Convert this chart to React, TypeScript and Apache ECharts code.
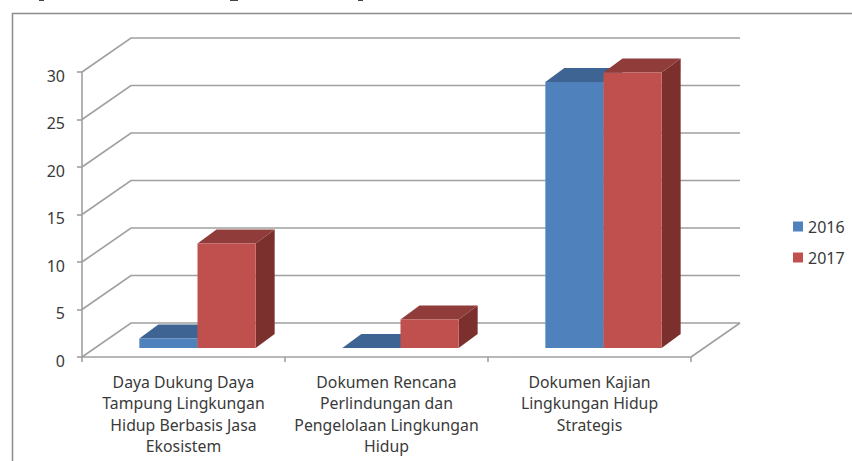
import React, { useEffect, useRef } from "react";
import * as echarts from "echarts";

const categories = [
  "Daya Dukung Daya\nTampung Lingkungan\nHidup Berbasis Jasa\nEkosistem",
  "Dokumen Rencana\nPerlindungan dan\nPengelolaan Lingkungan\nHidup",
  "Dokumen Kajian\nLingkungan Hidup\nStrategis",
];
const values2016 = [1, 0, 28];
const values2017 = [11, 3, 29];
const yTicks = [0, 5, 10, 15, 20, 25, 30];

const FONT = "'Noto Sans'";
const TEXT = "#3a3a3a";
const GRID = "#a0a0a0";
const WALL_DX = 49, WALL_DY = -34;
const BAR_OFF_X = 14, BAR_OFF_Y = -9;
const BAR_DX = 19, BAR_DY = -14;
const BAR_W_FRAC = 0.2865;

function wallItem(_p: any, api: any) {
  const [x0, y] = api.coord([0, api.value(0)]);
  const band = api.size([1, 0])[0];
  const x3 = x0 - band / 2 + band * 3;
  const left = x0 - band / 2;
  const style = { stroke: GRID, lineWidth: 1.6, fill: "none" };
  return {
    type: "group",
    children: [
      { type: "polyline", shape: { points: [[left, y], [left + WALL_DX, y + WALL_DY], [x3 + WALL_DX, y + WALL_DY]] }, style },
      ...(api.value(0) === 0
        ? [{ type: "line", shape: { x1: x3, y1: y, x2: x3 + WALL_DX, y2: y + WALL_DY }, style }]
        : []),
    ],
  };
}

function barItem(seriesPos: number, front: string, top: string, side: string) {
  return (_p: any, api: any) => {
    const [cx, y0] = api.coord([api.value(0), 0]);
    const [, y1] = api.coord([api.value(0), api.value(1)]);
    const w = api.size([1, 0])[0] * BAR_W_FRAC;
    const l = cx + BAR_OFF_X + (seriesPos === 0 ? -w : 0);
    const r = l + w;
    const b = y0 + BAR_OFF_Y;
    const t = y1 + BAR_OFF_Y;
    const poly = (points: number[][], fill: string) => ({
      type: "polygon",
      shape: { points },
      style: { fill, stroke: "none" },
    });
    return {
      type: "group",
      children: [
        poly([[r, b], [r + BAR_DX, b + BAR_DY], [r + BAR_DX, t + BAR_DY], [r, t]], side),
        poly([[l, t], [l + BAR_DX, t + BAR_DY], [r + BAR_DX, t + BAR_DY], [r, t]], top),
        poly([[l, b], [r, b], [r, t], [l, t]], front),
      ],
    };
  };
}

export default function App() {
  const ref = useRef<HTMLDivElement>(null);
  useEffect(() => {
    const chart = echarts.init(ref.current!, undefined, { renderer: "svg" });
    const titleScrap = (x: number, width: number) => ({
      type: "rect",
      shape: { x, y: 0, width, height: 1 },
      style: { fill: "#444444" },
      silent: true,
    });
    chart.setOption({
      animation: false,
      backgroundColor: "#ffffff",
      textStyle: { fontFamily: FONT },
      grid: { left: 82, right: 161, top: 72, bottom: 104 },
      legend: {
        data: ["2016", "2017"],
        orient: "vertical",
        left: 793,
        top: 218,
        padding: 0,
        icon: "rect",
        itemWidth: 10,
        itemHeight: 10,
        itemGap: 14,
        textStyle: { fontFamily: FONT, fontSize: 16, color: TEXT, lineHeight: 17 },
      },
      xAxis: {
        type: "category",
        data: categories,
        boundaryGap: true,
        axisLine: { show: true, lineStyle: { color: GRID, width: 1.6 } },
        axisTick: { show: true, length: 5, alignWithLabel: false, lineStyle: { color: GRID, width: 1.6 } },
        axisLabel: {
          interval: 0,
          margin: 14,
          fontFamily: FONT,
          fontSize: 15.8,
          lineHeight: 21.5,
          color: TEXT,
          align: "center",
        },
      },
      yAxis: {
        type: "value",
        min: 0,
        max: 30,
        interval: 5,
        splitLine: { show: false },
        axisLine: { show: true, lineStyle: { color: GRID, width: 1.6 } },
        axisTick: { show: true, length: 5, lineStyle: { color: GRID, width: 1.6 } },
        axisLabel: {
          margin: 17,
          fontFamily: FONT,
          fontSize: 16,
          color: TEXT,
          verticalAlign: "top",
          lineHeight: 7,
        },
      },
      graphic: [
        {
          type: "polyline",
          shape: { points: [[12.5, 461], [12.5, 13.5], [852, 13.5]] },
          style: { stroke: "#8c8c8c", lineWidth: 1.5, fill: "none" },
          silent: true,
        },
        titleScrap(39, 5),
        titleScrap(230, 8),
        titleScrap(358, 5),
      ],
      series: [
        {
          name: "wall",
          type: "custom",
          clip: false,
          silent: true,
          z: 1,
          renderItem: wallItem,
          encode: { y: 0 },
          data: yTicks.map((v) => [v]),
        },
        {
          name: "2016",
          type: "custom",
          clip: false,
          z: 2,
          itemStyle: { color: "#4f81bd" },
          renderItem: barItem(0, "#4f81bd", "#3e6494", "#345479"),
          encode: { x: 0, y: 1 },
          data: values2016.map((v, i) => [i, v]),
        },
        {
          name: "2017",
          type: "custom",
          clip: false,
          z: 3,
          itemStyle: { color: "#c0504d" },
          renderItem: barItem(1, "#c0504d", "#8f3c3a", "#7c302e"),
          encode: { x: 0, y: 1 },
          data: values2017.map((v, i) => [i, v]),
        },
      ],
    });
    return () => chart.dispose();
  }, []);
  return (
    <div
      ref={ref}
      style={{ position: "fixed", left: 0, top: 0, width: 852, height: 461, background: "#fff" }}
    />
  );
}
